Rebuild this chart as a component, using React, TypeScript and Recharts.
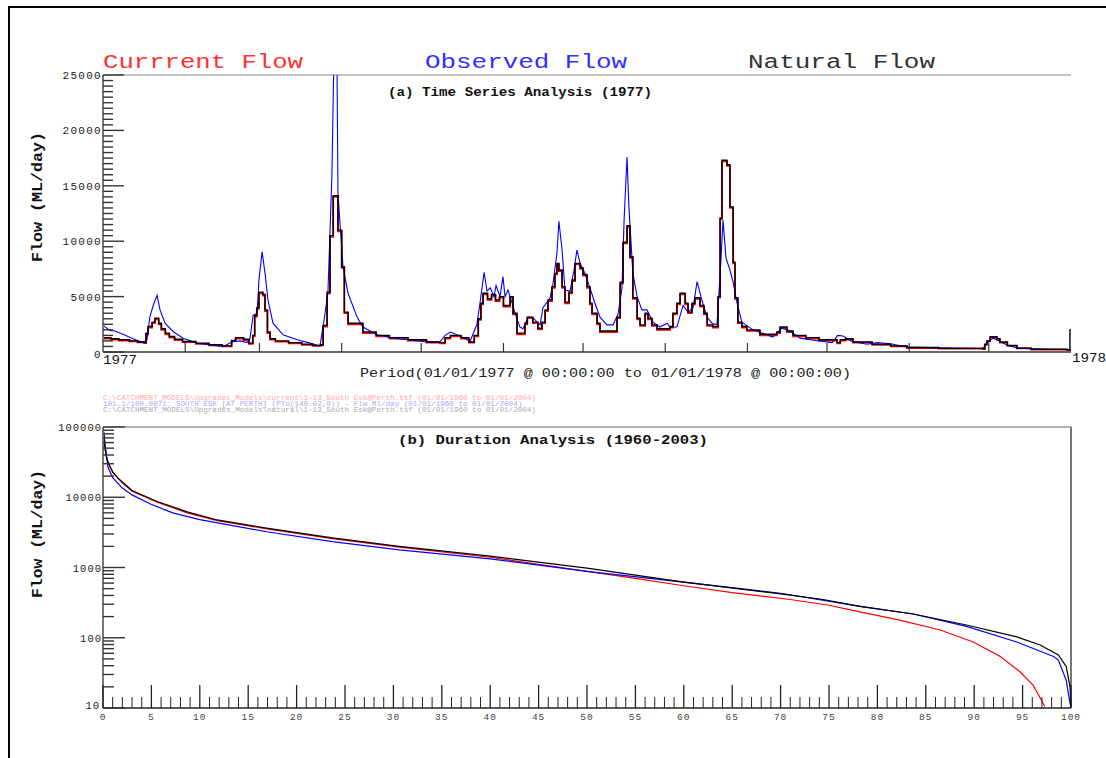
import React from 'react';
import { LineChart, Line, XAxis, YAxis, ReferenceLine } from 'recharts';

const MONO = '"Liberation Mono", "DejaVu Sans Mono", monospace';

// (a) daily flow for 1977, [day of year, ML/day], read at the corners of each step
const naturalDaily: [number, number][] = [
  [0, 1300], [3, 1200], [6, 1100], [10, 1000], [13, 900], [15.5, 850],
  [16.2, 1700], [17, 2300], [18.5, 2700], [19.6, 3050], [21, 2600], [22, 2100],
  [23.5, 1700], [25, 1400], [27, 1150], [30, 950], [35, 800], [40, 650], [45, 550],
  [48.5, 1050], [50, 1300], [53, 1150], [55, 800], [56.5, 1500], [57.2, 3300],
  [58, 4000], [58.8, 5400], [60.3, 5200], [61.1, 3800], [62, 1800], [63, 1200],
  [65, 1000], [70, 850], [75, 700], [79, 600], [82, 650], [83, 2400], [84.5, 5400],
  [85.6, 10500], [86.8, 14100], [88.6, 11000], [90, 7700], [91, 3600], [92.4, 2600],
  [98, 1800], [103, 1500], [108, 1300], [115, 1100], [122, 900], [127, 850],
  [129, 1300], [131, 1500], [135, 1300], [138, 900], [140, 1500], [141.5, 3000],
  [142.5, 4400], [143.3, 5300], [145, 4800], [146.5, 5200], [148, 4700], [149.5, 5000],
  [151, 4200], [153.5, 5000], [154.6, 3500], [156.1, 1700], [159.1, 2600], [160, 3150],
  [162.1, 2700], [164, 2150], [165.5, 2700], [166.7, 3800], [167.8, 4700], [169.3, 5900],
  [170.4, 7100], [171.2, 8000], [171.9, 7400], [173.1, 5900], [174.2, 4500], [175.7, 5400],
  [176.9, 6500], [178, 8000], [179.9, 7600], [181, 7000], [182.5, 5900], [183.6, 4400],
  [184.4, 3500], [186.3, 2600], [187.4, 1900], [193.8, 3150], [195, 6300], [196.1, 9900],
  [197.6, 11400], [198.7, 8600], [199.8, 4900], [201.4, 3050], [202.5, 2450], [204.4, 3500],
  [205.5, 3050], [207, 2450], [208.9, 2100], [213.8, 2300], [214.9, 3500], [216.4, 4400],
  [217.6, 5300], [219.5, 4400], [220.6, 3600], [222.1, 4400], [223.2, 4900], [225.1, 4200],
  [226.6, 3500], [227.8, 2450], [230, 2300], [231.9, 5000], [232.7, 12100], [233.4, 17300],
  [235.3, 16900], [236.4, 13100], [237.6, 8100], [238.3, 4900], [239.4, 2700], [240.9, 2300],
  [242.8, 2000], [247.7, 1600], [254.1, 1800], [255.3, 2250], [257.9, 1900], [260.2, 1500],
  [265, 1300], [270, 1100], [276.8, 850], [278, 1100], [280, 1200], [282.8, 900],
  [290, 700], [297, 550], [303.2, 400], [315, 330], [331.8, 300], [332.5, 700],
  [333.3, 1000], [334.5, 1380], [337.1, 1200], [338.2, 900], [341, 600], [344.6, 350],
  [350, 250], [363.5, 200], [364.6, 2000], [365, 2000],
];

const currentDaily: [number, number][] = [
  [0, 1200], [3, 1120], [6, 1040], [10, 950], [13, 860], [15.5, 800],
  [16.2, 1600], [17, 2200], [18.5, 2600], [19.6, 2950], [21, 2500], [22, 2000],
  [23.5, 1600], [25, 1300], [27, 1080], [30, 900], [35, 740], [40, 600], [45, 500],
  [48.5, 980], [50, 1220], [53, 1080], [55, 740], [56.5, 1420], [57.2, 3200],
  [58, 3900], [58.8, 5300], [60.3, 5100], [61.1, 3700], [62, 1700], [63, 1120],
  [65, 930], [70, 780], [75, 640], [79, 550], [82, 600], [83, 2300], [84.5, 5300],
  [85.6, 10400], [86.8, 14000], [88.6, 10900], [90, 7600], [91, 3500], [92.4, 2500],
  [98, 1700], [103, 1420], [108, 1220], [115, 1030], [122, 840], [127, 790],
  [129, 1220], [131, 1420], [135, 1220], [138, 840], [140, 1420], [141.5, 2900],
  [142.5, 4300], [143.3, 5200], [145, 4700], [146.5, 5100], [148, 4600], [149.5, 4900],
  [151, 4100], [153.5, 4900], [154.6, 3400], [156.1, 1600], [159.1, 2500], [160, 3050],
  [162.1, 2600], [164, 2050], [165.5, 2600], [166.7, 3700], [167.8, 4600], [169.3, 5800],
  [170.4, 7000], [171.2, 7900], [171.9, 7300], [173.1, 5800], [174.2, 4400], [175.7, 5300],
  [176.9, 6400], [178, 7900], [179.9, 7500], [181, 6900], [182.5, 5800], [183.6, 4300],
  [184.4, 3400], [186.3, 2500], [187.4, 1800], [193.8, 3050], [195, 6200], [196.1, 9800],
  [197.6, 11300], [198.7, 8500], [199.8, 4800], [201.4, 2950], [202.5, 2350], [204.4, 3400],
  [205.5, 2950], [207, 2350], [208.9, 2000], [213.8, 2200], [214.9, 3400], [216.4, 4300],
  [217.6, 5200], [219.5, 4300], [220.6, 3500], [222.1, 4300], [223.2, 4800], [225.1, 4100],
  [226.6, 3400], [227.8, 2350], [230, 2200], [231.9, 4900], [232.7, 12000], [233.4, 17200],
  [235.3, 16800], [236.4, 13000], [237.6, 8000], [238.3, 4800], [239.4, 2600], [240.9, 2200],
  [242.8, 1900], [247.7, 1500], [254.1, 1700], [255.3, 2150], [257.9, 1800], [260.2, 1420],
  [265, 1220], [270, 1030], [276.8, 790], [278, 1030], [280, 1120], [282.8, 840],
  [290, 640], [297, 500], [303.2, 360], [315, 300], [331.8, 270], [332.5, 650],
  [333.3, 950], [334.5, 1320], [337.1, 1120], [338.2, 840], [341, 550], [344.6, 320],
  [350, 220], [363.5, 180], [365, 180],
];

const observedDaily: [number, number][] = [
  [0, 2400], [2.6, 1950], [4.5, 1900], [7.5, 1600], [11.3, 1200], [15.1, 850],
  [16.6, 1100], [17.7, 3200], [19.2, 4400], [20.4, 5100], [21.5, 3800], [23.4, 2600],
  [26.4, 1850], [30.2, 1250], [35.4, 800], [45.2, 480], [48.6, 900], [51.7, 1000],
  [54.3, 850], [55.4, 1200], [56.6, 3300], [58.1, 3500], [58.8, 6500], [60, 9050],
  [61.1, 7100], [62.2, 4700], [64.1, 2600], [67.9, 1550], [73.2, 1100], [78.1, 800],
  [81.8, 550], [83, 2300], [84.8, 5300], [86.3, 15800], [87.1, 27000], [88.2, 27000],
  [88.6, 14300], [90.5, 7700], [92.4, 5300], [95.8, 3150], [98, 2250], [103.3, 1550],
  [109.4, 1250], [115, 1100], [122, 900], [127, 900], [129, 1500], [131, 1800],
  [135, 1400], [138.4, 950], [141, 2500], [142.2, 4500], [143.7, 7200], [144.8, 5500],
  [146, 5800], [147.4, 5000], [148.2, 6000], [149.7, 5000], [150.8, 6800], [151.6, 5000],
  [152.7, 5600], [153.9, 4700], [155.4, 3500], [157.2, 2250], [158.4, 2100], [160.3, 3150],
  [162.1, 3100], [164.8, 2450], [165.9, 4000], [168.6, 4900], [169.7, 6200], [171.2, 9000],
  [171.9, 11800], [173.1, 9200], [174.2, 5600], [176.1, 5500], [177.6, 7400], [178.7, 9200],
  [179.9, 8000], [181.7, 7100], [183.6, 5800], [185.5, 4400], [187.4, 3150], [190, 2450],
  [192.3, 2450], [194.2, 3400], [195.7, 5800], [196.5, 12000], [197.6, 17600], [198.3, 13100],
  [199.8, 7100], [201.4, 5000], [203.2, 3800], [205.1, 3800], [207.4, 2700], [210, 2250],
  [212.7, 2600], [213.8, 2250], [216.4, 2250], [218.7, 4200], [220.6, 3600], [222.5, 4000],
  [224, 6350], [225.9, 4600], [227.8, 3150], [229.6, 2600], [231.5, 2450], [232.7, 7000],
  [233.8, 11900], [234.9, 8500], [236.4, 7400], [237.6, 6300], [239.1, 4400], [240.9, 2700],
  [245.1, 2000], [252.6, 1350], [254.5, 1800], [256, 2150], [259, 1900], [262.8, 1250],
  [270, 1000], [275, 850], [277, 1500], [279, 1450], [282, 1000], [288, 700],
  [292, 850], [297, 750], [303, 450], [320, 350], [331.8, 320], [333.3, 800],
  [335.6, 1250], [338, 1000], [341, 600], [345, 350], [355, 250], [365, 200],
];

// (b) flow duration 1960-2003, [% of time exceeded, ML/day]
const naturalDuration: [number, number][] = [
  [0, 100000], [0.1, 70000], [0.2, 50000], [0.4, 35000], [0.7, 28000], [1, 23000],
  [1.5, 19000], [2, 16500], [3, 12500], [5.6, 8700], [8.7, 6200], [11.8, 4750],
  [16.9, 3640], [23.7, 2640], [30.6, 2000], [40, 1450], [50, 980], [60, 620],
  [70, 420], [74.4, 350], [78.2, 280], [83.7, 218], [89.2, 152], [94.4, 103],
  [96.8, 79], [98.7, 57], [99.5, 39], [99.9, 20], [100, 10.5],
];

const currentDuration: [number, number][] = [
  [0, 100000], [0.1, 70000], [0.2, 50000], [0.4, 35000], [0.7, 27500], [1, 22500],
  [2, 16000], [3, 12200], [5.6, 8500], [8.7, 6000], [11.8, 4650], [16.9, 3550],
  [23.7, 2580], [30.6, 1950], [40, 1400], [50, 880], [55, 700], [60, 550],
  [65, 440], [71, 350], [75, 290], [77.2, 250], [82.3, 178], [86.5, 129],
  [89.9, 87], [92.7, 54], [94.7, 33], [96.1, 21], [97.3, 10.5],
];

const observedDuration: [number, number][] = [
  [0, 100000], [0.2, 60000], [0.5, 27200], [1, 19000], [2, 13500], [3, 10800],
  [4.9, 8000], [7.2, 6000], [10, 4800], [16.9, 3230], [23.7, 2340], [30.6, 1780],
  [40, 1330], [50, 880], [60, 620], [70, 430], [78.2, 280], [83.7, 218],
  [89.2, 145], [94.4, 87], [98.2, 54], [98.7, 48], [99.5, 25], [99.9, 11.7], [100, 10],
];

const monthStarts = [0, 31, 59, 90, 120, 151, 181, 212, 243, 273, 304, 334, 365];
const flowTicks = Array.from({ length: 51 }, (_, i) => i * 500);
const decades = [10, 100, 1000, 10000, 100000];
const logTicks = decades.flatMap((d) => (d === 100000 ? [d] : [1, 2, 3, 4, 5, 6, 7, 8, 9].map((m) => m * d)));
const pctTicks = Array.from({ length: 101 }, (_, i) => i);

const seriesLabels = ['Currrent Flow', 'Observed Flow', 'Natural Flow'];
const fileLines = [
  'C:\\CATCHMENT_MODELS\\Upgrades_Models\\current\\1-13_South Esk@Perth.tsf (01/01/1960 to 01/01/2004)',
  '101.1/100.0071: SOUTH ESK [AT PERTH] (PTo(140.02,0)) - Flw Ml/day (01/01/1960 to 01/01/2004)',
  'C:\\CATCHMENT_MODELS\\Upgrades_Models\\natural\\1-13_South Esk@Perth.tsf (01/01/1960 to 01/01/2004)',
];

const rows = (pts: [number, number][]) => pts.map(([x, y]) => ({ x, y }));

function FlowTick({ x, y, payload }: any) {
  const v = payload.value as number;
  const major = v % 5000 === 0;
  return (
    <g>
      <line x1={x} y1={y} x2={x + (major ? 21 : 10)} y2={y} stroke="#333" strokeWidth={1.4} />
      {major && (
        <text x={x - 1} y={y + (v === 0 ? 6 : 4)} textAnchor="end" fontFamily={MONO} fontSize={11} letterSpacing={1.3} fill="#222">
          {v}
        </text>
      )}
    </g>
  );
}

function MonthTick({ x, y, payload }: any) {
  const v = payload.value as number;
  if (v === 0)
    return <text x={x} y={y + 12} fontFamily={MONO} fontSize={13} textLength={34} lengthAdjust="spacingAndGlyphs" fill="#111">1977</text>;
  if (v === 365)
    return <text x={x + 1} y={y + 10} fontFamily={MONO} fontSize={13} textLength={34} lengthAdjust="spacingAndGlyphs" fill="#111">1978</text>;
  return <line x1={x} y1={y} x2={x} y2={y - 9} stroke="#333" strokeWidth={1.2} />;
}

function LogTick({ x, y, payload }: any) {
  const v = payload.value as number;
  const major = decades.includes(v);
  return (
    <g>
      <line x1={x} y1={y} x2={x + (major ? 22 : 11)} y2={y} stroke="#333" strokeWidth={1.4} />
      {major && (
        <text x={x - (v === 10 ? 3 : 1)} y={y + (v === 10 ? 1 : 4)} textAnchor="end" fontFamily={MONO} fontSize={10.5} letterSpacing={1} fill="#222">
          {v}
        </text>
      )}
    </g>
  );
}

function PctTick({ x, y, payload }: any) {
  const v = payload.value as number;
  const major = v % 5 === 0;
  return (
    <g>
      <line x1={x} y1={y} x2={x} y2={y - (major ? 23 : 11)} stroke="#222" strokeWidth={major ? 1.3 : 1} />
      {major && (
        <text x={x} y={y + 12} textAnchor="middle" fontFamily={MONO} fontSize={9.5} letterSpacing={1} fill="#444">
          {v}
        </text>
      )}
    </g>
  );
}

export default function App() {
  return (
    <div style={{ position: 'absolute', left: 0, top: 0, width: 1106, height: 758, background: '#fff', overflow: 'hidden' }}>
      <div style={{ position: 'absolute', left: 8, top: 6, right: 0, bottom: 0, borderTop: '2px solid #000', borderLeft: '2px solid #000' }} />

      <div style={{ position: 'absolute', left: 0, top: 0, width: 1106, height: 380 }}>
        <LineChart width={1106} height={380} margin={{ top: 75, right: 35, bottom: 0, left: 0 }}>
          <XAxis
            dataKey="x"
            type="number"
            domain={[0, 365]}
            ticks={monthStarts}
            interval={0}
            height={28}
            tickSize={0}
            tickMargin={0}
            tickLine={false}
            tick={<MonthTick />}
            axisLine={{ stroke: '#333', strokeWidth: 1.5 }}
          />
          <YAxis
            type="number"
            domain={[0, 25000]}
            allowDataOverflow
            ticks={flowTicks}
            interval={0}
            width={103}
            tickSize={0}
            tickMargin={0}
            tickLine={false}
            tick={<FlowTick />}
            axisLine={{ stroke: '#777', strokeWidth: 2 }}
          />
          <ReferenceLine y={25000} stroke="#888" strokeWidth={1} />
          <Line data={rows(currentDaily)} dataKey="y" type="stepAfter" stroke="#ff0000" strokeWidth={1.8} dot={false} isAnimationActive={false} />
          <Line data={rows(observedDaily)} dataKey="y" type="linear" stroke="#0000ff" strokeWidth={1.1} dot={false} isAnimationActive={false} />
          <Line data={rows(naturalDaily)} dataKey="y" type="stepAfter" stroke="#000" strokeWidth={1.4} dot={false} isAnimationActive={false} />
        </LineChart>
      </div>

      <div style={{ position: 'absolute', left: 0, top: 400, width: 1106, height: 358 }}>
        <LineChart width={1106} height={358} margin={{ top: 27, right: 35, bottom: 0, left: 0 }}>
          <XAxis
            dataKey="x"
            type="number"
            domain={[0, 100]}
            ticks={pctTicks}
            interval={0}
            height={50}
            tickSize={0}
            tickMargin={0}
            tickLine={false}
            tick={<PctTick />}
            axisLine={{ stroke: '#222', strokeWidth: 1.5 }}
          />
          <YAxis
            type="number"
            scale="log"
            domain={[10, 100000]}
            allowDataOverflow
            ticks={logTicks}
            interval={0}
            width={103}
            tickSize={0}
            tickMargin={0}
            tickLine={false}
            tick={<LogTick />}
            axisLine={{ stroke: '#777', strokeWidth: 2 }}
          />
          <ReferenceLine y={100000} stroke="#666" strokeWidth={1.2} />
          <ReferenceLine x={100} stroke="#777" strokeWidth={2} />
          <Line data={rows(currentDuration)} dataKey="y" type="linear" stroke="#ff0000" strokeWidth={1.2} dot={false} isAnimationActive={false} />
          <Line data={rows(observedDuration)} dataKey="y" type="linear" stroke="#0000ff" strokeWidth={1.2} dot={false} isAnimationActive={false} />
          <Line data={rows(naturalDuration)} dataKey="y" type="linear" stroke="#000" strokeWidth={1.2} dot={false} isAnimationActive={false} />
        </LineChart>
      </div>

      <svg width={1106} height={758} style={{ position: 'absolute', left: 0, top: 0, pointerEvents: 'none' }}>
        <g fontFamily={MONO} fontSize={20}>
          <text x={103} y={68} fill="#ff3030" textLength={200} lengthAdjust="spacingAndGlyphs">{seriesLabels[0]}</text>
          <text x={425} y={68} fill="#3030ff" textLength={202} lengthAdjust="spacingAndGlyphs">{seriesLabels[1]}</text>
          <text x={748} y={68} fill="#333" textLength={187} lengthAdjust="spacingAndGlyphs">{seriesLabels[2]}</text>
        </g>
        <text x={388} y={96} fontFamily={MONO} fontSize={12.5} fontWeight="bold" fill="#111" textLength={264} lengthAdjust="spacingAndGlyphs">
          (a) Time Series Analysis (1977)
        </text>
        <text x={360} y={377} fontFamily={MONO} fontSize={12.5} fill="#222" textLength={491} lengthAdjust="spacingAndGlyphs">
          Period(01/01/1977 @ 00:00:00 to 01/01/1978 @ 00:00:00)
        </text>
        <g fontFamily={MONO} fontSize={7.6}>
          <text x={103} y={400} fill="#ffa8a8">{fileLines[0]}</text>
          <text x={103} y={406} fill="#a8a8ff">{fileLines[1]}</text>
          <text x={103} y={412} fill="#aaa">{fileLines[2]}</text>
        </g>
        <text x={398} y={444} fontFamily={MONO} fontSize={12.5} fontWeight="bold" fill="#111" textLength={310} lengthAdjust="spacingAndGlyphs">
          (b) Duration Analysis (1960-2003)
        </text>
        <text transform="translate(42,197) rotate(-90)" textAnchor="middle" fontFamily={MONO} fontSize={14} fontWeight="bold" fill="#111" textLength={130} lengthAdjust="spacingAndGlyphs">
          Flow (ML/day)
        </text>
        <text transform="translate(42,534) rotate(-90)" textAnchor="middle" fontFamily={MONO} fontSize={14} fontWeight="bold" fill="#111" textLength={128} lengthAdjust="spacingAndGlyphs">
          Flow (ML/day)
        </text>
      </svg>
    </div>
  );
}
